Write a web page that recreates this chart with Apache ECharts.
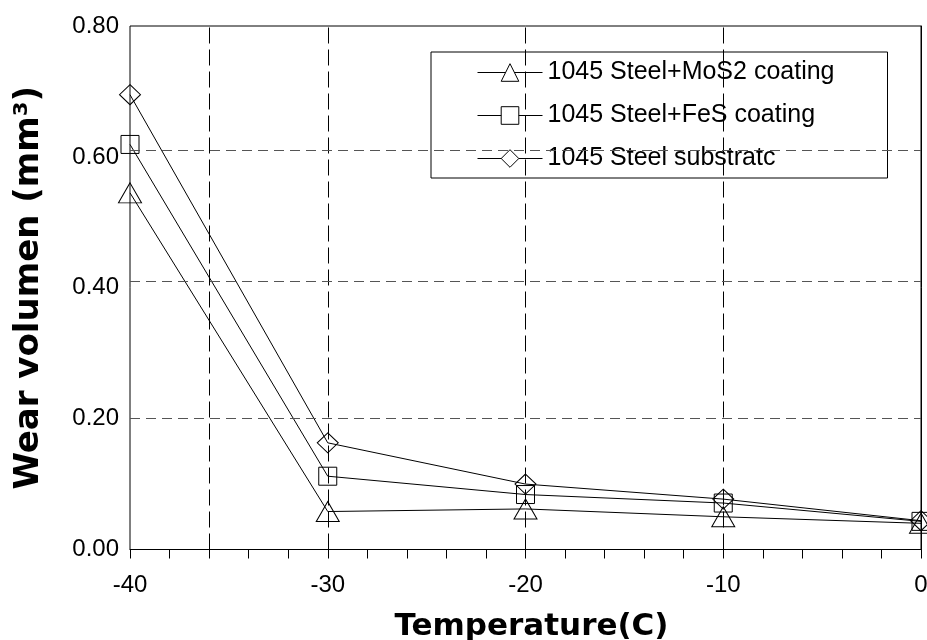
<!DOCTYPE html>
<html>
<head>
<meta charset="utf-8">
<script src="https://cdn.jsdelivr.net/npm/echarts@6/dist/echarts.min.js"></script>
<style>html,body{margin:0;padding:0;background:#fff}#c{width:927px;height:640px}</style>
</head>
<body>
<div id="c"></div>
<script>
var temperatures = [-40, -30, -20, -10, 0];
var mos2Coating = [0.545, 0.058, 0.062, 0.05, 0.04];
var fesCoating = [0.619, 0.112, 0.084, 0.071, 0.043];
var steelSubstrate = [0.695, 0.163, 0.1, 0.077, 0.044];
var seriesNames = ['1045 Steel+MoS2 coating', '1045 Steel+FeS coating', '1045 Steel substratc'];
var gridLinesX = [-36, -30, -20, -10];
var gridLinesY = [0.205, 0.413, 0.615];

function pairs(vals) { return temperatures.map(function (t, i) { return [t, vals[i]]; }); }

var chart = echarts.init(document.getElementById('c'), null, {renderer: 'canvas'});
var labelFont = 'Liberation Sans, Arial, sans-serif';
var titleFont = 'DejaVu Sans, sans-serif';

var baseSeries = {
  type: 'line',
  clip: false,
  showAllSymbol: true,
  lineStyle: {color: '#000', width: 1},
  itemStyle: {color: 'rgba(0,0,0,0)', borderColor: '#000', borderWidth: 1},
  emphasis: {disabled: true},
  animation: false
};

var option = {
  animation: false,
  backgroundColor: '#fff',
  color: ['#000'],
  grid: {left: 130, right: 6, top: 26, bottom: 90.5, show: true, borderColor: '#000', borderWidth: 1,
         backgroundColor: 'transparent', containLabel: false, outerBoundsMode: 'none'},
  legend: {
    orient: 'vertical',
    left: 431, top: 52,
    padding: [8, 53, 7, 46],
    borderColor: '#000', borderWidth: 1, borderRadius: 0,
    backgroundColor: '#fff',
    itemWidth: 65, itemHeight: 22, itemGap: 18, itemTextGap: 11,
    textStyle: {fontFamily: labelFont, fontSize: 25, color: '#000', lineHeight: 24},
    itemStyle: {color: '#fff', borderColor: '#000', borderWidth: 1},
    lineStyle: {color: '#000', width: 1},
    data: seriesNames,
    selectedMode: false
  },
  xAxis: {
    type: 'value', min: -40, max: 0, interval: 10,
    name: 'Temperature(C)', nameLocation: 'middle', nameGap: 62,
    nameTextStyle: {fontFamily: titleFont, fontWeight: 'bold', fontSize: 31, color: '#000', padding: [0, 0, 0, 12]},
    axisLine: {show: true, lineStyle: {color: '#000', width: 1}},
    axisTick: {show: true, inside: false, length: 9, lineStyle: {color: '#000'}},
    minorTick: {show: true, splitNumber: 5, length: 9, lineStyle: {color: '#000'}},
    axisLabel: {fontFamily: labelFont, fontSize: 24, color: '#000', margin: 24},
    splitLine: {show: false}
  },
  yAxis: {
    type: 'value', min: 0, max: 0.8, interval: 0.2,
    name: 'Wear volumen (mm³)', nameLocation: 'middle', nameGap: 84, nameRotate: 90,
    nameTextStyle: {fontFamily: titleFont, fontWeight: 'bold', fontSize: 34, color: '#000'},
    axisLine: {show: true, lineStyle: {color: '#000', width: 1}},
    axisTick: {show: false},
    axisLabel: {fontFamily: labelFont, fontSize: 24, color: '#000', margin: 11, formatter: function (v) { return v.toFixed(2); }},
    splitLine: {show: false}
  },
  series: [
    Object.assign({}, baseSeries, {
      name: seriesNames[0], data: pairs(mos2Coating),
      symbol: 'triangle', symbolSize: [23, 20], z: 3,
      markLine: {
        silent: true, symbol: 'none', animation: false, label: {show: false},
        data: gridLinesX.map(function (x) { return {xAxis: x, lineStyle: {color: '#000', width: 1, type: [16, 6]}}; })
          .concat(gridLinesY.map(function (y) { return {yAxis: y, lineStyle: {color: '#555', width: 1, type: [10, 6]}}; }))
      }
    }),
    Object.assign({}, baseSeries, {
      name: seriesNames[1], data: pairs(fesCoating),
      symbol: 'rect', symbolSize: 18, z: 3
    }),
    Object.assign({}, baseSeries, {
      name: seriesNames[2], data: pairs(steelSubstrate),
      symbol: 'diamond', symbolSize: [21, 20], z: 3
    })
  ]
};
chart.setOption(option);
</script>
</body>
</html>
